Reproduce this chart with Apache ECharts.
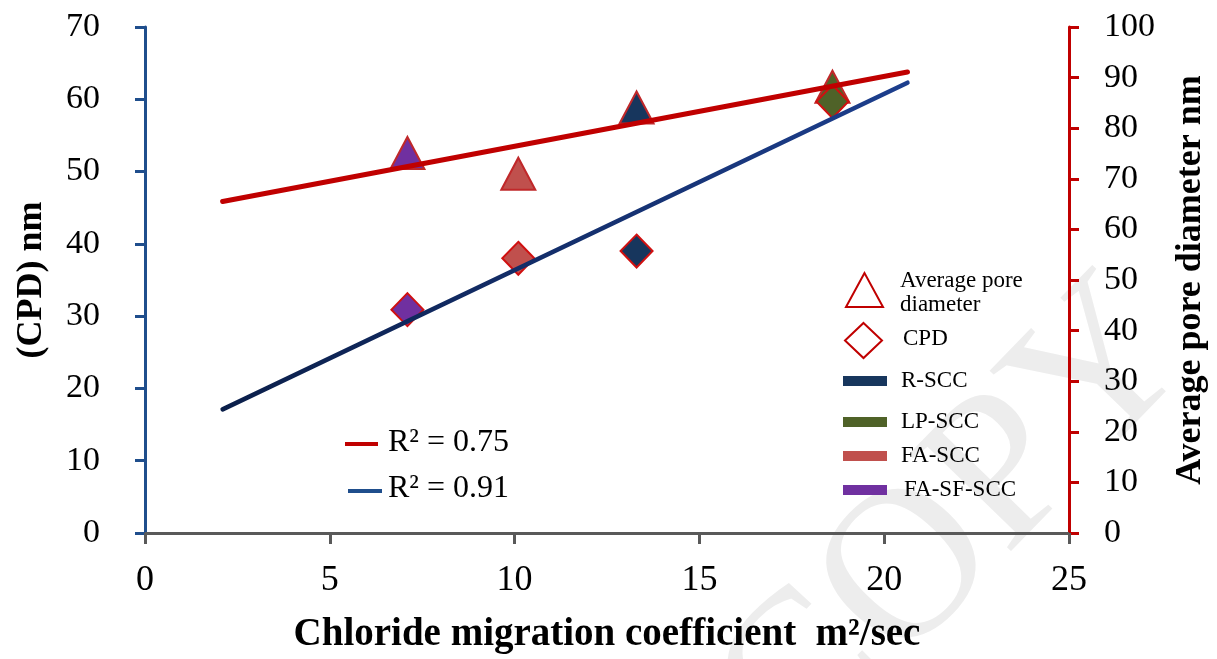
<!DOCTYPE html>
<html>
<head>
<meta charset="utf-8">
<script src="https://cdn.jsdelivr.net/npm/echarts@6/dist/echarts.min.js"></script>
<style>html,body{margin:0;padding:0;background:#fff;}#c{width:1217px;height:659px;}</style>
</head>
<body>
<div id="c"></div>
<script>
// ---- data ----
const mixes = ['R-SCC', 'LP-SCC', 'FA-SCC', 'FA-SF-SCC'];
const chlorideCoef = [13.3, 18.6, 10.1, 7.1];          // x, m2/sec
const poreDiameter = [84.1, 88.2, 71.0, 75.1];          // right axis, nm
const cpd = [39.0, 59.7, 38.0, 30.9];                   // left axis, nm
const poreTrendX = [2.1, 20.63];
const poreTrendY = [65.5, 91.1];
const cpdTrendX = [2.1, 20.63];
const cpdTrendY = [17.1, 62.3];
const r2Labels = ['R\u00B2 = 0.75', 'R\u00B2 = 0.91'];
const legendMarkerLabels = ['Average pore\ndiameter', 'CPD'];
const xTitle = 'Chloride migration coefficient  m\u00B2/sec';
const yLeftTitle = '(CPD) nm';
const yRightTitle = 'Average pore diameter nm';

// ---- styles ----
const mixColors = ['#17365d', '#4f6228', '#c0504d', '#7030a0'];
const RED = '#c00000';
const BLUE_AXIS = '#1f4e8c';
const FONT = "'Liberation Serif', 'Times New Roman', serif";

const chart = echarts.init(document.getElementById('c'));

const series = [];
mixes.forEach((m, i) => {
  series.push({
    name: m + ' pore', type: 'scatter', xAxisIndex: 0, yAxisIndex: 1,
    symbol: 'triangle', symbolSize: [34, 32], z: 3,
    itemStyle: { color: mixColors[i], borderColor: '#c0282a', borderWidth: 2, opacity: 1 },
    data: [[chlorideCoef[i], poreDiameter[i]]]
  });
  series.push({
    name: m + ' cpd', type: 'scatter', xAxisIndex: 0, yAxisIndex: 0,
    symbol: 'diamond', symbolSize: [32, 33], z: 3,
    itemStyle: { color: mixColors[i], borderColor: '#d01010', borderWidth: 2, opacity: 1 },
    data: [[chlorideCoef[i], cpd[i]]]
  });
});
series.push({
  name: 'pore trend', type: 'line', yAxisIndex: 1, z: 5, symbol: 'none', silent: true,
  lineStyle: { color: RED, width: 5, cap: 'round' },
  data: poreTrendX.map((x, i) => [x, poreTrendY[i]])
});
series.push({
  name: 'cpd trend', type: 'line', yAxisIndex: 0, z: 5, symbol: 'none', silent: true,
  lineStyle: { color: new echarts.graphic.LinearGradient(0, 0, 1, 0, [
    { offset: 0, color: '#0b1f4a' }, { offset: 1, color: '#1d3f8e' }]), width: 4.5, cap: 'round' },
  data: cpdTrendX.map((x, i) => [x, cpdTrendY[i]])
});

// legend + annotations via graphic
const legendRectY = [381, 422, 456, 490];
const graphic = [
  { type: 'text', z: 0, left: 680, top: 245, rotation: 0.8, origin: [0, 0],
    style: { text: 'COPY', font: "400 215px " + FONT, fill: '#ededed' } },
  // triangle legend
  { type: 'polygon', z: 10, shape: { points: [[864.5, 273], [846, 307], [883, 307]] },
    style: { fill: '#fff', stroke: RED, lineWidth: 2 } },
  { type: 'text', z: 10, x: 900, y: 293, style: { text: legendMarkerLabels[0], font: '23px ' + FONT, fill: '#000', lineHeight: 24, verticalAlign: 'middle' } },
  { type: 'polygon', z: 10, shape: { points: [[863.5, 323], [882, 340.5], [863.5, 358], [845, 340.5]] },
    style: { fill: '#fff', stroke: RED, lineWidth: 2 } },
  { type: 'text', z: 10, x: 903, y: 339, style: { text: legendMarkerLabels[1], font: '23px ' + FONT, fill: '#000', verticalAlign: 'middle' } }
];
mixes.forEach((m, i) => {
  graphic.push({ type: 'rect', z: 10, shape: { x: 843, y: legendRectY[i] - 5, width: 44, height: 10 },
    style: { fill: mixColors[i] } });
  graphic.push({ type: 'text', z: 10, x: i === 3 ? 904 : 901, y: legendRectY[i],
    style: { text: m, font: '23px ' + FONT, fill: '#000', verticalAlign: 'middle' } });
});
graphic.push({ type: 'line', z: 10, shape: { x1: 345, y1: 444, x2: 378, y2: 444 }, style: { stroke: RED, lineWidth: 4 } });
graphic.push({ type: 'text', z: 10, x: 388, y: 443, style: { text: r2Labels[0], font: '32px ' + FONT, fill: '#000', verticalAlign: 'middle' } });
graphic.push({ type: 'line', z: 10, shape: { x1: 348, y1: 491, x2: 382, y2: 491 }, style: { stroke: BLUE_AXIS, lineWidth: 4 } });
graphic.push({ type: 'text', z: 10, x: 388, y: 489, style: { text: r2Labels[1], font: '32px ' + FONT, fill: '#000', verticalAlign: 'middle' } });

chart.setOption({
  animation: false,
  backgroundColor: '#fff',
  grid: { left: 145, right: 145, top: 27, bottom: 126, containLabel: false },
  xAxis: {
    type: 'value', min: 0, max: 25, interval: 5,
    name: xTitle, nameLocation: 'middle', nameGap: 82,
    nameTextStyle: { fontFamily: FONT, fontWeight: 'bold', fontSize: 39, color: '#000' },
    axisLine: { show: true, onZero: false, lineStyle: { color: '#595959', width: 3 } },
    axisTick: { show: true, length: 11, lineStyle: { color: '#595959', width: 3 } },
    axisLabel: { fontFamily: FONT, fontSize: 36, color: '#000', margin: 30 },
    splitLine: { show: false }
  },
  yAxis: [
    {
      type: 'value', min: 0, max: 70, interval: 10, position: 'left',
      name: yLeftTitle, nameLocation: 'middle', nameGap: 95, nameRotate: 90,
      nameTextStyle: { fontFamily: FONT, fontWeight: 'bold', fontSize: 36, color: '#000' },
      axisLine: { show: true, lineStyle: { color: BLUE_AXIS, width: 3 } },
      axisTick: { show: true, length: 10, lineStyle: { color: BLUE_AXIS, width: 3 } },
      axisLabel: { fontFamily: FONT, fontSize: 34, color: '#000', margin: 45 },
      splitLine: { show: false }
    },
    {
      type: 'value', min: 0, max: 100, interval: 10, position: 'right',
      name: yRightTitle, nameLocation: 'middle', nameGap: 104, nameRotate: 90,
      nameTextStyle: { fontFamily: FONT, fontWeight: 'bold', fontSize: 36, color: '#000' },
      axisLine: { show: true, lineStyle: { color: RED, width: 3 } },
      axisTick: { show: true, length: 10, lineStyle: { color: RED, width: 3 } },
      axisLabel: { fontFamily: FONT, fontSize: 34, color: '#000', margin: 35 },
      splitLine: { show: false }
    }
  ],
  graphic: graphic,
  series: series
});
</script>
</body>
</html>
